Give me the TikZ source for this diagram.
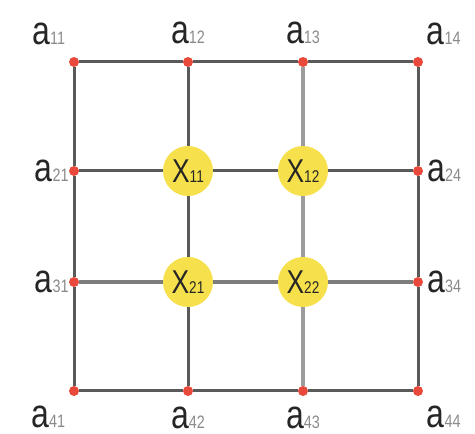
\documentclass[tikz,border=0pt]{standalone}
\usepackage{fontspec}
\usepackage{xcolor}
\usepackage{tikz}
\usetikzlibrary{positioning}
\newfontfamily\labfont[FakeStretch=0.8]{Liberation Sans}
\definecolor{gridgray}{HTML}{5A5A5A}
\definecolor{midgray}{HTML}{7C7C7C}
\definecolor{lightgray}{HTML}{9C9C9C}
\definecolor{dotred}{HTML}{E8493A}
\definecolor{cellyellow}{HTML}{F6E04C}
\definecolor{subgray}{HTML}{8A8A8A}
\newcommand{\alab}[1]{{\fontsize{40}{40}\selectfont a}{\fontsize{18}{18}\selectfont\color{subgray}#1}}
\newcommand{\xlab}[1]{{\fontsize{33}{33}\selectfont X}{\fontsize{17}{17}\selectfont #1}}

\begin{document}
\begin{tikzpicture}[
    x=1pt, y=1pt,
    dot/.style = {circle, fill=dotred, inner sep=0pt, minimum size=10pt},
    cell/.style = {circle, fill=cellyellow, inner sep=0pt, minimum size=50pt,
                   font=\labfont, text=black!85},
    lab/.style = {inner sep=0pt, font=\labfont, text=black!85},
    edge/.style = {line width=3pt, color=gridgray},
    midedge/.style = {line width=4.5pt, color=midgray},
    lightedge/.style = {line width=3.5pt, color=lightgray}
  ]
  \useasboundingbox (0,0) rectangle (475,434);

  % corner and border points
  \node[dot] (a11) at (74,372) {};
  \node[dot] (a12) at (188,372) {};
  \node[dot] (a13) at (303,372) {};
  \node[dot] (a14) at (418,372) {};
  \node[dot] (a21) at (74,263) {};
  \node[dot] (a24) at (418,263) {};
  \node[dot] (a31) at (74,152) {};
  \node[dot] (a34) at (418,152) {};
  \node[dot] (a41) at (74,43) {};
  \node[dot] (a42) at (188,43) {};
  \node[dot] (a43) at (303,43) {};
  \node[dot] (a44) at (418,43) {};

  % inner unknowns
  \node[cell] (x11) at (188,263) {\xlab{11}};
  \node[cell] (x12) at (303,263) {\xlab{12}};
  \node[cell] (x21) at (188,152) {\xlab{21}};
  \node[cell] (x22) at (303,152) {\xlab{22}};

  % rows
  \draw[edge] (a11) -- (a12);
  \draw[edge] (a12) -- (a13);
  \draw[edge] (a13) -- (a14);
  \draw[edge] (a21) -- (x11);
  \draw[edge] (x11) -- (x12);
  \draw[edge] (x12) -- (a24);
  \draw[midedge] (a31) -- (x21);
  \draw[midedge] (x21) -- (x22);
  \draw[midedge] (x22) -- (a34);
  \draw[edge] (a41) -- (a42);
  \draw[edge] (a42) -- (a43);
  \draw[edge] (a43) -- (a44);
  % columns
  \draw[edge] (a11) -- (a21);
  \draw[edge] (a21) -- (a31);
  \draw[edge] (a31) -- (a41);
  \draw[edge] (a12) -- (x11);
  \draw[edge] (x11) -- (x21);
  \draw[edge] (x21) -- (a42);
  \draw[lightedge] (a13) -- (x12);
  \draw[lightedge] (x12) -- (x22);
  \draw[lightedge] (x22) -- (a43);
  \draw[edge] (a14) -- (a24);
  \draw[edge] (a24) -- (a34);
  \draw[edge] (a34) -- (a44);

  % labels
  \node[lab, above left=13pt and 5pt of a11] (l11) {\alab{11}};
  \node[lab, above=13pt of a12] (l12) {\alab{12}};
  \node[lab, above=13pt of a13] (l13) {\alab{13}};
  \node[lab, above right=13pt and 5pt of a14] (l14) {\alab{14}};
  \node[lab, left=0pt of a21] (l21) {\alab{21}};
  \node[lab, right=4pt of a24] (l24) {\alab{24}};
  \node[lab, left=0pt of a31] (l31) {\alab{31}};
  \node[lab, right=4pt of a34] (l34) {\alab{34}};
  \node[lab, below left=11pt and 5pt of a41] (l41) {\alab{41}};
  \node[lab, below=11pt of a42] (l42) {\alab{42}};
  \node[lab, below=11pt of a43] (l43) {\alab{43}};
  \node[lab, below right=11pt and 5pt of a44] (l44) {\alab{44}};
\end{tikzpicture}
\end{document}
